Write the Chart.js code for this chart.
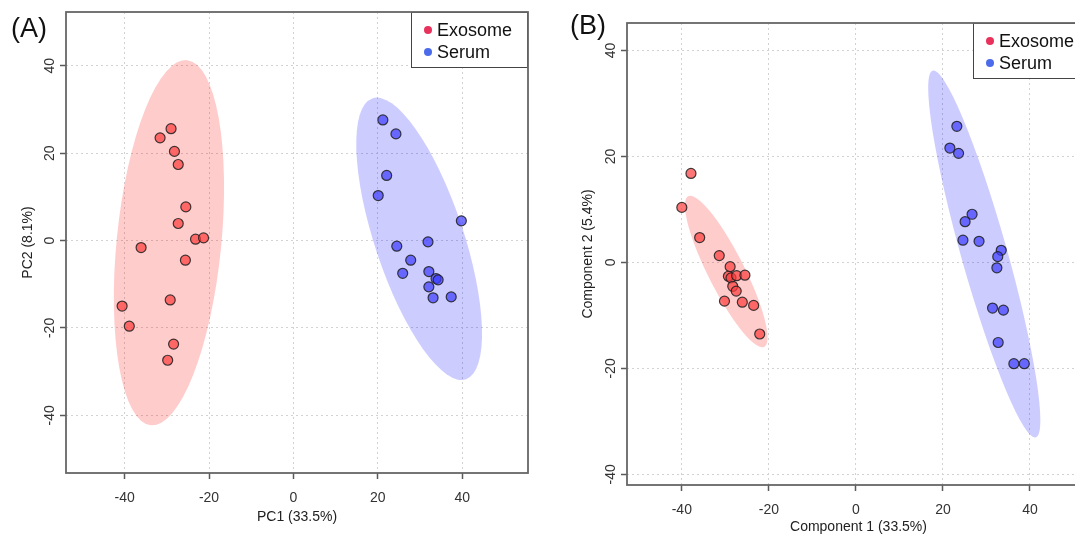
<!DOCTYPE html>
<html>
<head>
<meta charset="utf-8">
<script src="https://cdn.jsdelivr.net/npm/chart.js@4.4.1/dist/chart.umd.min.js"></script>
<style>
  html, body { margin: 0; padding: 0; background: #fff; overflow: hidden; }
  body { width: 1075px; height: 537px; position: relative; }
  .panel { position: absolute; top: 0; }
  .tag { position: absolute; font-family: 'Liberation Sans', Arial, sans-serif; font-size: 27px; line-height: 1; color: #111; }
</style>
</head>
<body>
<div class="panel" style="left:0"><canvas id="pcaChart" width="540" height="537"></canvas></div>
<div class="panel" style="left:540px"><canvas id="plsChart" width="560" height="537"></canvas></div>
<div class="tag" style="left:11px; top:15px">(A)</div>
<div class="tag" style="left:570px; top:12px">(B)</div>
<script>
const groups = ['Exosome', 'Serum'];
const tickValues = [-40, -20, 0, 20, 40];

// PCA scores (A)
const pcaExosomeX = [-29.0, -31.6, -28.2, -27.3, -25.5, -27.3, -23.2, -21.3, -36.1, -25.6, -29.2, -40.6, -38.9, -28.4, -29.8];
const pcaExosomeY = [25.6, 23.5, 20.4, 17.4, 7.7, 3.9, 0.3, 0.6, -1.6, -4.5, -13.6, -15.0, -19.6, -23.7, -27.4];
const pcaSerumX = [21.2, 24.3, 22.1, 20.1, 39.8, 24.5, 31.9, 27.8, 25.9, 32.1, 33.8, 34.3, 32.1, 33.1, 37.4];
const pcaSerumY = [27.6, 24.4, 14.9, 10.3, 4.5, -1.3, -0.3, -4.5, -7.5, -7.1, -8.7, -9.0, -10.6, -13.1, -12.9];

// PLS-DA scores (B)
const plsExosomeX = [-37.9, -40.0, -35.9, -31.4, -28.9, -29.3, -28.7, -27.4, -25.5, -28.3, -27.5, -30.2, -26.1, -23.5, -22.1];
const plsExosomeY = [16.8, 10.4, 4.7, 1.3, -0.8, -2.6, -2.9, -2.5, -2.4, -4.5, -5.4, -7.3, -7.5, -8.1, -13.5];
const plsSerumX = [23.2, 21.6, 23.6, 26.7, 25.1, 24.6, 28.3, 33.4, 32.6, 32.4, 31.4, 33.9, 32.7, 36.3, 38.7];
const plsSerumY = [25.7, 21.6, 20.6, 9.1, 7.7, 4.2, 4.0, 2.3, 1.1, -1.0, -8.6, -9.0, -15.1, -19.1, -19.1];

// confidence ellipses: [centre x, centre y, semi-major, semi-minor, angle (deg)]
const pcaExosomeEllipse = [-29.5, -0.5, 42.0, 12.4, 84.1];
const pcaSerumEllipse = [29.8, 0.4, 34.0, 10.5, 109.1];
const plsExosomeEllipse = [-29.8, -1.7, 16.7, 4.0, 122.1];
const plsSerumEllipse = [29.5, 1.6, 36.6, 5.2, 109.0];

const FONT = "'Liberation Sans', Arial, sans-serif";

function toPoints(xs, ys) {
    return xs.map((x, i) => ({ x: x, y: ys[i] }));
}

// filled ellipses drawn in data space under the points
const ellipsePlugin = {
    id: 'ellipses',
    beforeDatasetsDraw(chart) {
        const { ctx, chartArea, scales: { x, y } } = chart;
        const sx = x.getPixelForValue(1) - x.getPixelForValue(0);
        const sy = y.getPixelForValue(1) - y.getPixelForValue(0);
        ctx.save();
        ctx.beginPath();
        ctx.rect(chartArea.left, chartArea.top, chartArea.width, chartArea.height);
        ctx.clip();
        chart.data.datasets.forEach(ds => {
            const [cx, cy, a, b, deg] = ds.ellipse;
            ctx.save();
            ctx.transform(sx, 0, 0, sy, x.getPixelForValue(cx), y.getPixelForValue(cy));
            ctx.rotate(deg * Math.PI / 180);
            ctx.beginPath();
            ctx.ellipse(0, 0, a, b, 0, 0, 2 * Math.PI);
            ctx.restore();
            ctx.fillStyle = ds.ellipseColor;
            ctx.fill();
        });
        ctx.restore();
    }
};

// box round the plot + legend in the top right corner
const framePlugin = {
    id: 'frame',
    afterDraw(chart) {
        const { ctx, chartArea: ca } = chart;
        ctx.save();
        const w = 117, h = 56;
        const lx = ca.right - w, ly = ca.top;
        ctx.fillStyle = '#fff';
        ctx.fillRect(lx, ly, w, h);
        ctx.strokeStyle = '#444';
        ctx.lineWidth = 1;
        ctx.strokeRect(lx + 0.5, ly + 0.5, w - 1, h - 1);
        ctx.font = '18px ' + FONT;
        ctx.textBaseline = 'middle';
        chart.data.datasets.forEach((ds, i) => {
            const yy = ly + 18 + i * 22;
            ctx.fillStyle = ds.legendColor;
            ctx.beginPath();
            ctx.arc(lx + 17, yy, 4, 0, 2 * Math.PI);
            ctx.fill();
            ctx.fillStyle = '#111';
            ctx.fillText(ds.label, lx + 26, yy + 1);
        });
        ctx.strokeStyle = '#666';
        ctx.lineWidth = 1.8;
        ctx.strokeRect(ca.left, ca.top, ca.width, ca.height);
        ctx.restore();
    }
};

function axis(min, max, title, size, isX, titlePad) {
    return {
        type: 'linear',
        min: min,
        max: max,
        afterBuildTicks: s => { s.ticks = tickValues.map(v => ({ value: v })); },
        afterFit: s => { if (isX) s.height = size; else s.width = size; },
        grid: {
            color: '#d2d2d2', lineWidth: 1,
            tickLength: 6, tickColor: '#5a5a5a', tickWidth: 1.5, tickBorderDash: []
        },
        border: { display: false, dash: [2, 3] },
        ticks: isX
            ? { color: '#333', font: { family: FONT, size: 14 }, padding: 11, maxRotation: 0 }
            : { color: '#333', font: { family: FONT, size: 14 }, padding: 0, minRotation: 90, maxRotation: 90, crossAlign: 'center' },
        title: {
            display: true, text: title, color: '#222',
            font: { family: FONT, size: 14 },
            padding: isX ? { top: 0, bottom: titlePad } : { top: titlePad, bottom: 0 }
        }
    };
}

function scoresChart(id, cfg) {
    return new Chart(document.getElementById(id), {
        type: 'scatter',
        data: {
            datasets: [
                {
                    label: groups[0],
                    data: toPoints(cfg.exoX, cfg.exoY),
                    ellipse: cfg.exoEllipse,
                    ellipseColor: 'rgba(255, 0, 0, 0.2)',
                    legendColor: '#e8315b',
                    backgroundColor: 'rgba(255, 60, 60, 0.7)',
                    borderColor: 'rgba(30, 30, 30, 0.85)',
                    borderWidth: 1.2,
                    pointRadius: 5
                },
                {
                    label: groups[1],
                    data: toPoints(cfg.serX, cfg.serY),
                    ellipse: cfg.serEllipse,
                    ellipseColor: 'rgba(0, 0, 255, 0.2)',
                    legendColor: '#4b6bea',
                    backgroundColor: 'rgba(60, 60, 255, 0.7)',
                    borderColor: 'rgba(30, 30, 30, 0.85)',
                    borderWidth: 1.2,
                    pointRadius: 5
                }
            ]
        },
        options: {
            responsive: false,
            animation: false,
            layout: { padding: { left: 0, top: cfg.top, right: cfg.right, bottom: 0 } },
            plugins: { legend: { display: false }, tooltip: { enabled: false } },
            scales: {
                x: axis(cfg.xRange[0], cfg.xRange[1], cfg.xTitle, cfg.xSize, true, cfg.xTitlePad),
                y: axis(cfg.yRange[0], cfg.yRange[1], cfg.yTitle, cfg.ySize, false, cfg.yTitlePad)
            }
        },
        plugins: [ellipsePlugin, framePlugin]
    });
}

scoresChart('pcaChart', {
    exoX: pcaExosomeX, exoY: pcaExosomeY, serX: pcaSerumX, serY: pcaSerumY,
    exoEllipse: pcaExosomeEllipse, serEllipse: pcaSerumEllipse,
    xRange: [-53.9, 55.6], yRange: [-53.2, 52.3],
    xTitle: 'PC1 (33.5%)', yTitle: 'PC2 (8.1%)',
    xSize: 64, ySize: 66, xTitlePad: 11, yTitlePad: 20,
    top: 12, right: 12
});

scoresChart('plsChart', {
    exoX: plsExosomeX, exoY: plsExosomeY, serX: plsSerumX, serY: plsSerumY,
    exoEllipse: plsExosomeEllipse, serEllipse: plsSerumEllipse,
    xRange: [-52.6, 53.8], yRange: [-42.0, 45.2],
    xTitle: 'Component 1 (33.5%)', yTitle: 'Component 2 (5.4%)',
    xSize: 52, ySize: 87, xTitlePad: 1, yTitlePad: 40,
    top: 23, right: 10
});
</script>
</body>
</html>
